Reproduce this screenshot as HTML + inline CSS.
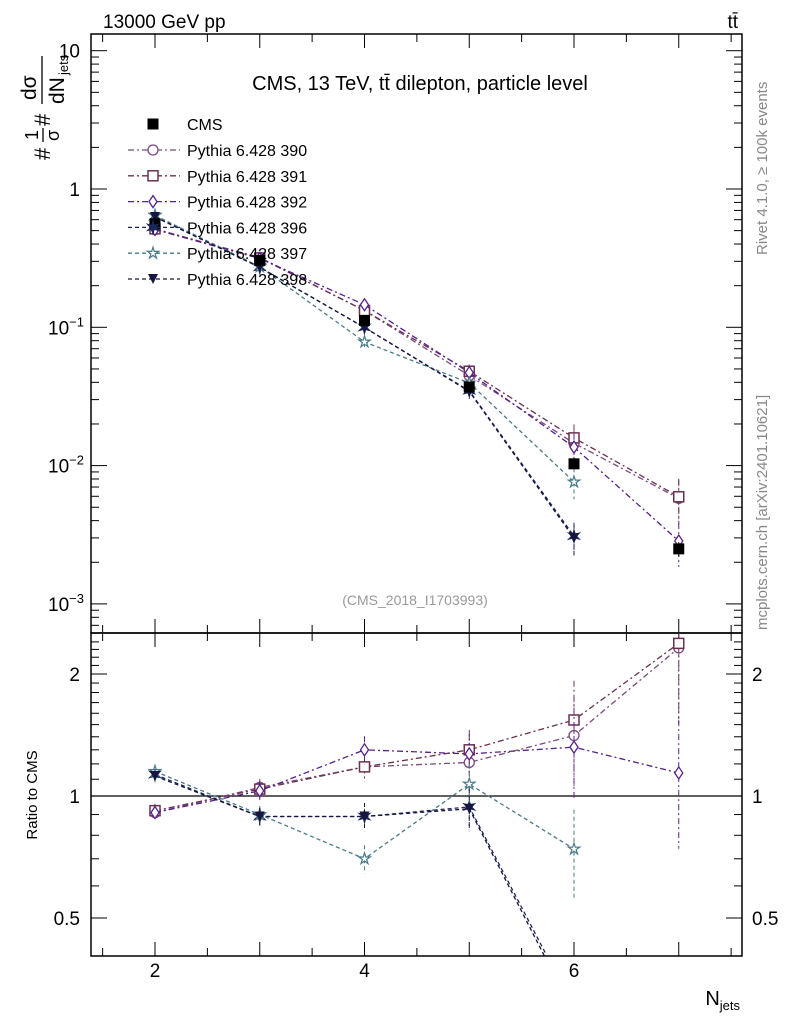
<!DOCTYPE html>
<html><head><meta charset="utf-8"><style>
body{margin:0;background:#fff;width:786px;height:1024px;overflow:hidden;font-family:"Liberation Sans",sans-serif}
svg text{font-family:"Liberation Sans",sans-serif}
</style></head><body>
<svg id="c" width="786" height="1024" xmlns="http://www.w3.org/2000/svg">
<text x="103" y="28" font-size="19">13000 GeV pp</text>
<text x="738" y="28" font-size="19" text-anchor="end">tt̄</text>
<text x="420" y="90" font-size="20" text-anchor="middle">CMS, 13 TeV, tt̄ dilepton, particle level</text>
<text x="415" y="605" font-size="14" fill="#999" text-anchor="middle">(CMS_2018_I1703993)</text>
<text transform="translate(767,255) rotate(-90)" font-size="15" fill="#888">Rivet 4.1.0, ≥ 100k events</text>
<text transform="translate(767,630) rotate(-90)" font-size="15" fill="#888">mcplots.cern.ch [arXiv:2401.10621]</text>
<g transform="translate(52,160) rotate(-90)">
<text x="0" y="-2" font-size="22">#</text>
<text x="20" y="-14" font-size="18">1</text><line x1="18" y1="-9" x2="32" y2="-9" stroke="#000" stroke-width="1.3"/><text x="19" y="7" font-size="18">σ</text>
<text x="34" y="-2" font-size="22">#</text>
<text x="60" y="-16" font-size="21">dσ</text><line x1="56" y1="-10" x2="104" y2="-10" stroke="#000" stroke-width="1.3"/><text x="56" y="12" font-size="21">dN</text><text x="85" y="16" font-size="13">jets</text>
</g>
<text transform="translate(37,795) rotate(-90)" font-size="15" text-anchor="middle">Ratio to CMS</text>
<text x="740" y="1005" font-size="20" text-anchor="end">N<tspan font-size="13" dy="5">jets</tspan></text>
</svg>
<script>
const cats=[2,3,4,5,6,7];
const cms=[0.56,0.305,0.112,0.037,0.0103,0.0025];
const cmsErr=[0.03,0.015,0.006,0.002,0.0007,0.0003];
const names=["Pythia 6.428 390","Pythia 6.428 391","Pythia 6.428 392","Pythia 6.428 396","Pythia 6.428 397","Pythia 6.428 398"];
const r390=[0.91,1.05,1.18,1.21,1.41,2.32];
const r391=[0.92,1.04,1.18,1.30,1.54,2.38];
const r392=[0.91,1.03,1.30,1.27,1.32,1.14];
const r396=[1.13,0.89,0.89,0.94,0.30,null];
const r397=[1.15,0.90,0.70,1.07,0.74,null];
const r398=[1.12,0.89,0.89,0.93,0.29,null];
const relErr=[0.04,0.05,0.08,0.12,0.25,0.35];
const ratios=[r390,r391,r392,r396,r397,r398];
const colors=["#7a4a80","#6a3050","#552288","#1a2858","#4a7a88","#161640"];
const dashes=["6,3,2,3","6,3,2,3","6,3,2,3","4,3","4,3","4,3"];
const markers=["circle","square","diamond","star6","star","tri"];

const svg=document.getElementById('c');const NS="http://www.w3.org/2000/svg";
function el(t,a,p){const e=document.createElementNS(NS,t);for(const k in a)e.setAttribute(k,a[k]);(p||svg).appendChild(e);return e;}
const X0=91,X1=742,T=34,M=633,B=956;
const xs=v=>155+(v-2)*104.75;
const ym=v=>189-Math.log10(v)*138.3;
const yr=v=>796-Math.log2(v)*122;
const f1=el('rect',{x:X0,y:T,width:X1-X0,height:M-T,fill:'none',stroke:'#000','stroke-width':1.5});

const f2=el('rect',{x:X0,y:M,width:X1-X0,height:B-M,fill:'none',stroke:'#000','stroke-width':1.5});

for(let v=1.5;v<=7.5;v+=0.5){const x=xs(v);const big=Number.isInteger(v);const L=big?14:8;
 [T,M].forEach(y=>el('line',{x1:x,y1:y,x2:x,y2:y+L,stroke:'#000'}));
 [M,B].forEach(y=>el('line',{x1:x,y1:y,x2:x,y2:y-L,stroke:'#000'}));}
[2,4,6].forEach(v=>{const t=el('text',{x:xs(v),y:977,'font-size':19,'text-anchor':'middle'});t.textContent=v;});
for(let d=-4;d<=1;d++){for(let m=1;m<10;m++){const v=m*Math.pow(10,d);const y=ym(v);if(y<T||y>M)continue;const L=m==1?16:8;
 el('line',{x1:X0,y1:y,x2:X0+L,y2:y,stroke:'#000'});el('line',{x1:X1,y1:y,x2:X1-L,y2:y,stroke:'#000'});}}
const ylab=[["10",1],["1",0],["10","-1"],["10","-2"],["10","-3"]];
ylab.forEach(([b,e])=>{const y=ym(Math.pow(10,+e));const t=el('text',{x:80,y:y+7,'font-size':19,'text-anchor':'end'});
 
 if(e==1||e==0)t.textContent=e==1?"10":"1";else{t.textContent="10";const s=el('tspan',{'font-size':13,dy:-8},t);s.textContent="−"+String(e).slice(1);t.setAttribute('x',84);}});
for(let v=0.4;v<=2.5;v+=0.1){const y=yr(v);if(y<M||y>B)continue;const big=[0.5,1,2].some(q=>Math.abs(q-v)<1e-6);const L=big?16:8;
 el('line',{x1:X0,y1:y,x2:X0+L,y2:y,stroke:'#000'});el('line',{x1:X1,y1:y,x2:X1-L,y2:y,stroke:'#000'});}
[["2",2],["1",1],["0.5",0.5]].forEach(([s,v])=>{const y=yr(v)+7;
 const a=el('text',{x:80,y,'font-size':19,'text-anchor':'end'});a.textContent=s;
 const b=el('text',{x:752,y,'font-size':19});b.textContent=s;});
const one=el('line',{x1:X0,y1:yr(1),x2:X1,y2:yr(1),stroke:'#000','stroke-width':1.2});

const defs=el('defs',{});const c1=el('clipPath',{id:'cm'},defs);el('rect',{x:X0,y:T,width:X1-X0,height:M-T},c1);
const c2=el('clipPath',{id:'cr'},defs);el('rect',{x:X0,y:M,width:X1-X0,height:B-M},c2);
function marker(g,type,x,y,col,s){s=s||5;let e;
 if(type=='circle')e=el('circle',{cx:x,cy:y,r:s,fill:'#fff',stroke:col,'stroke-width':1.3},g);
 else if(type=='square')e=el('rect',{x:x-s,y:y-s,width:2*s,height:2*s,fill:'#fff',stroke:col,'stroke-width':1.5},g);
 else if(type=='cms')e=el('rect',{x:x-s,y:y-s,width:2*s,height:2*s,fill:'#000'},g);
 else if(type=='diamond')e=el('polygon',{points:`${x},${y-s-1} ${x+s-1},${y} ${x},${y+s+1} ${x-s+1},${y}`,fill:'#fff',stroke:col,'stroke-width':1.3},g);
 else if(type=='tri')e=el('polygon',{points:`${x-s},${y-s} ${x+s},${y-s} ${x},${y+s}`,fill:col},g);
 else{let p=[];const n=type=='star6'?6:5;for(let i=0;i<2*n;i++){const r=i%2?s*0.45:s*1.2;const a=Math.PI*i/n-Math.PI/2;p.push((x+r*Math.cos(a)).toFixed(1)+','+(y+r*Math.sin(a)).toFixed(1));}
  e=el('polygon',{points:p.join(' '),fill:type=='star6'?col:'#fff',stroke:col,'stroke-width':1.2},g);}
 return e;}
ratios.forEach((r,k)=>{
 const gm=el('g',{'clip-path':'url(#cm)'});
 const gr=el('g',{'clip-path':'url(#cr)'});
 let pm=[],pr=[];
 cats.forEach((c,i)=>{if(r[i]==null)return;const v=r[i]*cms[i];const e=relErr[i];
  pm.push([xs(c),ym(v)]);pr.push([xs(c),yr(r[i])]);
  el('line',{x1:xs(c),y1:ym(v*(1+e)),x2:xs(c),y2:ym(Math.max(v*(1-e),1e-5)),stroke:colors[k],'stroke-dasharray':dashes[k]},gm);
  el('line',{x1:xs(c),y1:yr(r[i]*(1+e)),x2:xs(c),y2:yr(Math.max(r[i]*(1-e),0.01)),stroke:colors[k],'stroke-dasharray':dashes[k]},gr);});
 el('polyline',{points:pm.map(p=>p.join(',')).join(' '),fill:'none',stroke:colors[k],'stroke-width':1.3,'stroke-dasharray':dashes[k]},gm);
 el('polyline',{points:pr.map(p=>p.join(',')).join(' '),fill:'none',stroke:colors[k],'stroke-width':1.3,'stroke-dasharray':dashes[k]},gr);
 pm.forEach(p=>marker(gm,markers[k],p[0],p[1],colors[k]));pr.forEach(p=>marker(gr,markers[k],p[0],p[1],colors[k]));
});
const gc=el('g',{});
cats.forEach((c,i)=>{el('line',{x1:xs(c),y1:ym(cms[i]+cmsErr[i]),x2:xs(c),y2:ym(cms[i]-cmsErr[i]),stroke:'#000'},gc);marker(gc,'cms',xs(c),ym(cms[i]),'#000',5.5);});
const lg=el('g',{});
const e0=el('g',{},lg);
marker(e0,'cms',153,124,'#000',5.5);const t0=el('text',{x:187,y:130,'font-size':16},e0);t0.textContent="CMS";
names.forEach((n,k)=>{const y=150+k*25.8;const g=el('g',{},lg);
 el('line',{x1:128,y1:y,x2:180,y2:y,stroke:colors[k],'stroke-width':1.3,'stroke-dasharray':dashes[k]},g);marker(g,markers[k],153,y,colors[k]);
 const t=el('text',{x:187,y:y+6,'font-size':16},g);t.textContent=n;});
</script>
</body></html>
